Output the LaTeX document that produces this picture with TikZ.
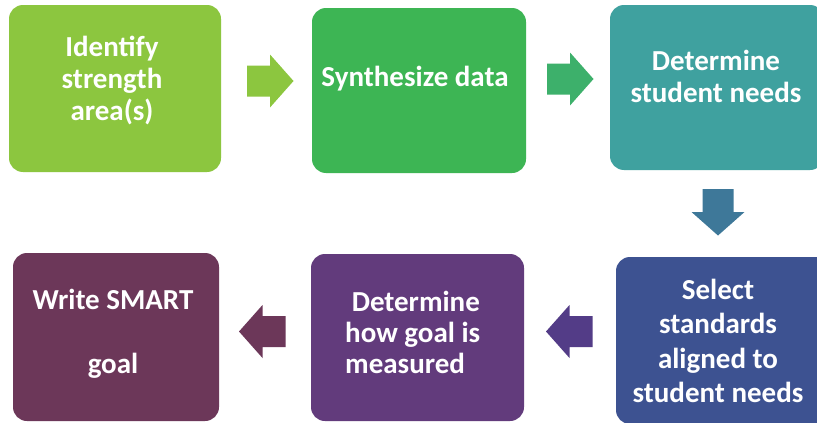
\documentclass[tikz,border=0pt]{standalone}
\usepackage{fontspec}
\setmainfont{Carlito}
\usetikzlibrary{positioning}
\definecolor{limegreen}{HTML}{8CC63F}
\definecolor{leafgreen}{HTML}{3DB554}
\definecolor{arrowgreen}{HTML}{3DB06B}
\definecolor{tealbox}{HTML}{3FA19F}
\definecolor{steelblue}{HTML}{3E7899}
\definecolor{navybox}{HTML}{3D5291}
\definecolor{violetarrow}{HTML}{533C87}
\definecolor{purplebox}{HTML}{623B7C}
\definecolor{plumbox}{HTML}{6C3759}
\tikzset{
stepbox/.style={rounded corners=14pt, inner sep=0pt, fill=#1},
stepsize/.style 2 args={minimum width=#1pt, minimum height=#2pt},
steptext/.style={text=white, font=\fontsize{29}{32}\selectfont\bfseries, align=center, inner sep=0pt},
blockarrow/.pic={\fill (-23,-15.5) -- (0,-15.5) -- (0,-26.5) -- (23.5,0) -- (0,26.5) -- (0,15.5) -- (-23,15.5) -- cycle;}
}

\begin{document}
\begin{tikzpicture}[x=1pt, y=-1pt]
\clip (0,0) rectangle (817,423);
\fill[white] (0,0) rectangle (817,423);

% top row
\node[stepbox=limegreen, stepsize={212}{167}] (ident) at (115,88.5) {};
\node[steptext] (identtxt) at (112,80) {Identify\\strength\\ area(s)};

\node[stepbox=leafgreen, stepsize={214}{165}] (synth) at (419,90.5) {};
\node[steptext] (synthtxt) at (415,79) {Synthesize data};

\node[stepbox=tealbox, stepsize={214}{165}] (needs) at (717,87.5) {};
\node[steptext] (needstxt) at (716,76) {Determine\\student needs};

% bottom row
\node[stepbox=navybox, stepsize={214}{167}] (select) at (723,340.5) {};
\node[steptext, font=\fontsize{29}{34.3}\selectfont\bfseries] (selecttxt) at (718,341) {Select\\standards\\aligned to\\student needs};

\node[stepbox=purplebox, stepsize={213}{167}] (measure) at (417.5,337.5) {};
\node[steptext, align=left, anchor=west, font=\fontsize{29}{31}\selectfont\bfseries] (measuretxt) at (345,332) {\ Determine\\how goal is\\measured};

\node[stepbox=plumbox, stepsize={206}{168}] (smart) at (116,337) {};
\node[steptext] (smarttxt) at (113,334) {Write SMART\\[32pt]goal};

% block arrows
\pic[limegreen] (arrA) at (270,81) {blockarrow};
\pic[arrowgreen] (arrB) at (570,79) {blockarrow};
\pic[steelblue, rotate=-90] (arrC) at (718,212) {blockarrow};
\pic[violetarrow, rotate=180] (arrD) at (569.5,331.5) {blockarrow};
\pic[plumbox, rotate=180] (arrE) at (262.5,331.5) {blockarrow};
\end{tikzpicture}
\end{document}
